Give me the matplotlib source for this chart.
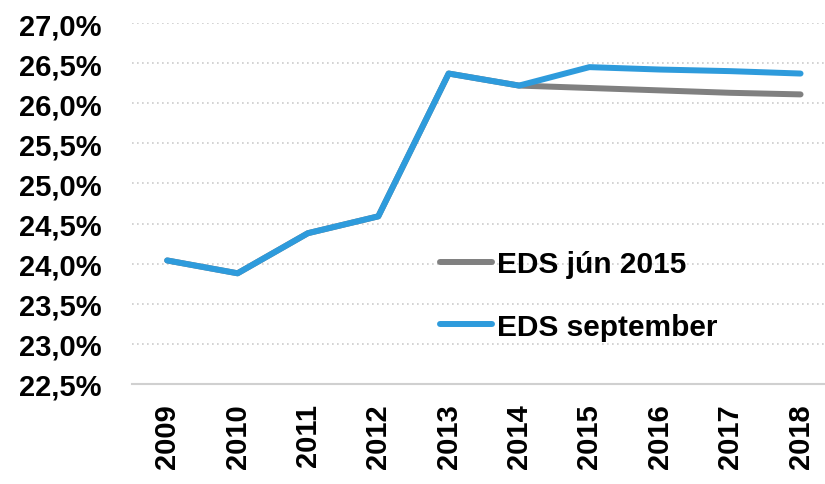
import matplotlib
matplotlib.use("Agg")
import matplotlib.pyplot as plt
from matplotlib.ticker import FuncFormatter, MultipleLocator

years = ["2009", "2010", "2011", "2012", "2013", "2014", "2015", "2016", "2017", "2018"]
eds_jun = [24.04, 23.88, 24.38, 24.59, 26.37, 26.22, 26.19, 26.16, 26.13, 26.11]
eds_sep = [24.04, 23.88, 24.38, 24.59, 26.37, 26.22, 26.45, 26.42, 26.40, 26.37]
labels = ["EDS jún 2015", "EDS september"]

plt.rcParams['font.family'] = ['Liberation Sans', 'DejaVu Sans']
plt.rcParams['font.weight'] = 'bold'

fig = plt.figure(figsize=(8.25, 4.85), dpi=100)
ax = fig.add_axes([0.16, 0.2062, 0.853, 0.7443])

x = range(len(years))
ax.plot(x, eds_jun, color="#808080", lw=4.3, solid_capstyle='round', label=labels[0])
ax.plot(x, eds_sep, color="#2E9BDC", lw=4.3, solid_capstyle='round', label=labels[1])

ax.set_ylim(22.5, 27.0)
ax.set_xlim(-0.5, 9.5)
ax.yaxis.set_major_locator(MultipleLocator(0.5))
ax.yaxis.set_major_formatter(FuncFormatter(lambda v, p: f"{v:.1f}%".replace(".", ",")))
ax.set_xticks(list(x))
ax.set_xticklabels(years, rotation=90)

ax.grid(axis='y', color="#cccccc", linestyle=(0, (1, 2)), lw=1.2)
ax.set_axisbelow(True)
for s in ["top", "right", "left"]:
    ax.spines[s].set_visible(False)
ax.spines["bottom"].set_color("#d0d0d0")
ax.spines["bottom"].set_linewidth(1.5)
ax.tick_params(length=0, labelsize=21)
ax.tick_params(axis='y', pad=22)
ax.tick_params(axis='x', pad=14)

leg = ax.legend(loc='center left', bbox_to_anchor=(0.4375, 0.245), frameon=False,
                fontsize=21.5, handlelength=1.75, handletextpad=0.15, labelspacing=1.15,
                borderaxespad=0, borderpad=0)

fig.savefig("out.png", dpi=100)
